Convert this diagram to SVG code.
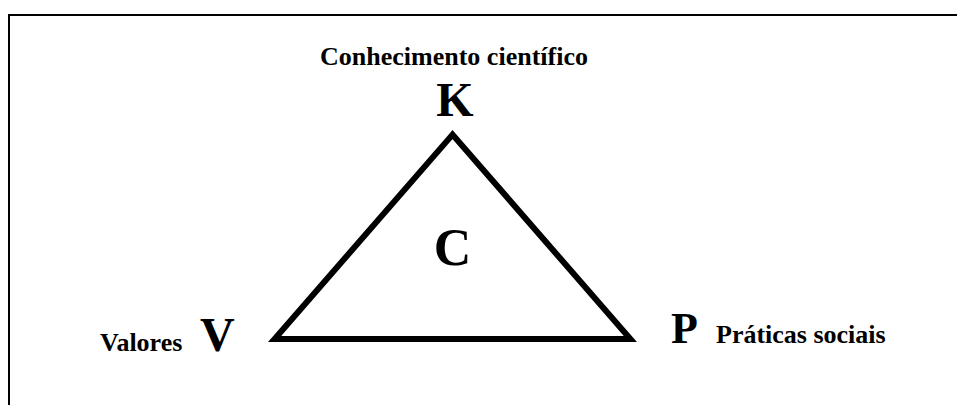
<svg xmlns="http://www.w3.org/2000/svg" width="957" height="405" viewBox="0 0 957 405">
<style>
text{font-family:"Liberation Serif","Times New Roman",serif;font-weight:bold;fill:#000}
.lbl{font-size:26px}
.big{font-size:48px}
</style>
<rect width="957" height="405" fill="#fff"/>
<g id="frame" fill="none" stroke="#000" stroke-width="2">
<path d="M9 405 V15 H957"/>
</g>
<g id="connectors">
<polygon points="452.5,134.6 274.6,339 630.4,339" fill="none" stroke="#000" stroke-width="6" stroke-linejoin="miter"/>
</g>
<g id="node-K">
<text class="lbl" x="454" y="65" text-anchor="middle">Conhecimento científico</text>
<text class="big" x="455" y="116" text-anchor="middle">K</text>
</g>
<g id="node-C">
<text x="452.5" y="265" text-anchor="middle" style="font-size:52px">C</text>
</g>
<g id="node-V">
<text class="lbl" x="100" y="351">Valores</text>
<text class="big" x="200" y="351">V</text>
</g>
<g id="node-P">
<text x="671" y="343" style="font-size:44px">P</text>
<text class="lbl" x="716" y="343">Práticas sociais</text>
</g>
</svg>
